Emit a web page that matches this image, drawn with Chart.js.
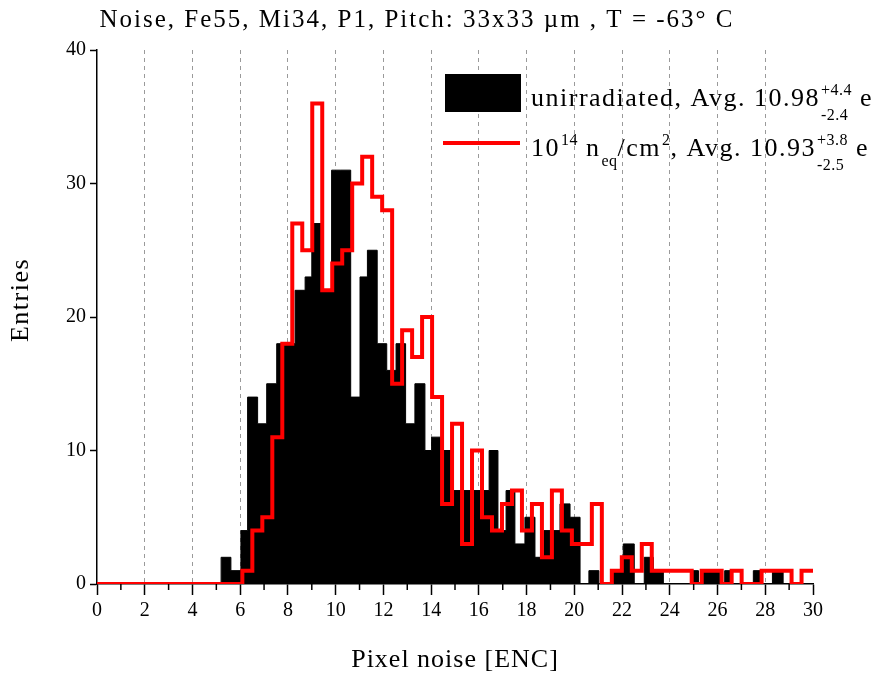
<!DOCTYPE html>
<html>
<head>
<meta charset="utf-8">
<title>Noise, Fe55, Mi34, P1</title>
<script src="https://cdn.jsdelivr.net/npm/chart.js@4.4.1/dist/chart.umd.min.js"></script>
<style>
    html, body { margin: 0; padding: 0; background: #fff; }
    #wrap { width: 878px; height: 675px; }
</style>
</head>
<body>
<div id="wrap"><canvas id="noiseChart" width="878" height="675"></canvas></div>
<script>
// ---- values ----

// unirradiated histogram: bin left edges (ENC) and entries per bin
const unirrEdges = [5.20, 5.61, 6.03, 6.31, 6.73, 7.11, 7.53, 7.88, 8.30, 8.72,
    9.00, 9.39, 9.83, 10.22, 10.63, 11.02, 11.33, 11.74, 12.14, 12.53,
    12.93, 13.32, 13.74, 14.02, 14.46, 14.87, 15.28, 15.70, 16.12, 16.43,
    16.80, 17.14, 17.51, 17.93, 18.35, 18.73, 19.11, 19.40, 19.82, 20.24,
    20.61, 21.03, 21.58, 22.05, 22.51, 22.93, 23.31, 23.73, 24.88, 25.20,
    25.40, 26.10, 26.30, 26.60, 27.50, 27.80, 28.30, 28.75];
const unirrCounts = [2, 1, 4, 14, 12, 15, 18, 18, 22, 23,
    27, 22, 31, 31, 14, 23, 25, 18, 16, 18,
    12, 15, 10, 11, 10, 7, 7, 7, 7, 10,
    4, 7, 3, 5, 2, 4, 4, 6, 5, 0,
    1, 0, 1, 3, 0, 2, 1, 0, 1, 0,
    1, 0, 1, 0, 1, 0, 1];

// 10^14 neq/cm2 histogram: first bin edge, bin width and entries per bin
const irrStart = 6.09;
const irrBinWidth = 0.4184;
const irrCounts = [1, 4, 5, 11, 18, 27, 25, 36, 22, 24,
    25, 30, 32, 29, 28, 15, 19, 17, 20, 14,
    6, 12, 3, 10, 5, 4, 6, 7, 4, 6,
    2, 7, 4, 3, 3, 6, 0, 1, 2, 1,
    3, 1, 1, 1, 1, 0, 1, 1, 0, 1,
    0, 0, 1, 1, 1, 0, 1, 1];

// axes
const xTickValues = [0, 2, 4, 6, 8, 10, 12, 14, 16, 18, 20, 22, 24, 26, 28, 30];
const xMinorTicks = [1, 3, 5, 7, 9, 11, 13, 15, 17, 19, 21, 23, 25, 27, 29];
const yTickValues = [0, 10, 20, 30, 40];

const chartTitle = 'Noise, Fe55, Mi34, P1, Pitch: 33x33 µm , T = -63° C';
const xTitle = 'Pixel noise [ENC]';
const yTitle = 'Entries';

const SERIF = '"Liberation Serif", "Times New Roman", serif';

document.addEventListener('DOMContentLoaded', () => {

    // 1. Turn the bins into step outlines
    const unirrPoints = [{ x: unirrEdges[0], y: 0 }];
    unirrCounts.forEach((c, i) => unirrPoints.push({ x: unirrEdges[i], y: c }));
    const lastEdge = unirrEdges[unirrEdges.length - 1];
    unirrPoints.push({ x: lastEdge, y: unirrCounts[unirrCounts.length - 1] });
    unirrPoints.push({ x: lastEdge, y: 0 });

    const irrPoints = [{ x: xTickValues[0], y: 0 }];
    irrCounts.forEach((c, i) => irrPoints.push({ x: irrStart + i * irrBinWidth, y: c }));
    irrPoints.push({ x: irrStart + irrCounts.length * irrBinWidth, y: irrCounts[irrCounts.length - 1] });

    // 2. Text with super/subscripts (legend)
    function drawRich(ctx, parts, x, y) {
        let cx = x;
        parts.forEach(p => {
            if (typeof p === 'string') {
                ctx.font = '26px ' + SERIF;
                ctx.letterSpacing = '1.5px';
                ctx.fillText(p, cx, y);
                cx += ctx.measureText(p).width;
            } else {
                ctx.font = '16px ' + SERIF;
                ctx.letterSpacing = '0.5px';
                let w = 0;
                if (p.sup) {
                    ctx.fillText(p.sup, cx + 1, y - 11);
                    w = Math.max(w, ctx.measureText(p.sup).width);
                }
                if (p.sub) {
                    ctx.fillText(p.sub, cx + 1, y + (p.sup ? 14 : 10));
                    w = Math.max(w, ctx.measureText(p.sub).width);
                }
                cx += w + 1;
            }
        });
    }

    const overlay = {
        id: 'overlay',
        afterDraw(chart) {
            const { ctx, chartArea, scales: { x } } = chart;
            ctx.save();

            // minor ticks on the x axis
            ctx.strokeStyle = '#000';
            ctx.lineWidth = 1.5;
            xMinorTicks.forEach(v => {
                const px = x.getPixelForValue(v);
                ctx.beginPath();
                ctx.moveTo(px, chartArea.bottom);
                ctx.lineTo(px, chartArea.bottom + 6);
                ctx.stroke();
            });

            ctx.fillStyle = '#000';
            ctx.textBaseline = 'middle';
            ctx.textAlign = 'center';

            // title
            ctx.font = '25px ' + SERIF;
            ctx.letterSpacing = '2px';
            ctx.fillText(chartTitle, 417, 20);

            // axis titles
            ctx.font = '26px ' + SERIF;
            ctx.letterSpacing = '1px';
            ctx.fillText(xTitle, 455, 660);
            ctx.save();
            ctx.translate(21, 300);
            ctx.rotate(-Math.PI / 2);
            ctx.letterSpacing = '1.5px';
            ctx.fillText(yTitle, 0, 0);
            ctx.restore();

            // legend
            ctx.fillRect(445, 74, 76, 38);
            ctx.strokeStyle = '#ff0000';
            ctx.lineWidth = 4;
            ctx.beginPath();
            ctx.moveTo(443, 143);
            ctx.lineTo(520, 143);
            ctx.stroke();

            ctx.textAlign = 'left';
            ctx.textBaseline = 'alphabetic';
            drawRich(ctx, ['unirradiated, Avg. 10.98', { sup: '+4.4', sub: '-2.4' }, ' e'], 531, 106);
            drawRich(ctx, ['10', { sup: '14' }, ' n', { sub: 'eq' }, '/cm', { sup: '2' },
                ', Avg. 10.93', { sup: '+3.8', sub: '-2.5' }, ' e'], 531, 156);

            ctx.restore();
        }
    };

    // 3. Chart
    const tickFont = { family: SERIF, size: 20 };

    const config = {
        type: 'line',
        data: {
            datasets: [
                {
                    label: '10^14 neq/cm2',
                    data: irrPoints,
                    stepped: 'before',
                    borderColor: '#ff0000',
                    borderWidth: 4,
                    pointRadius: 0,
                    fill: false,
                    order: 1
                },
                {
                    label: 'unirradiated',
                    data: unirrPoints,
                    stepped: 'before',
                    borderColor: '#000',
                    backgroundColor: '#000',
                    borderWidth: 1,
                    pointRadius: 0,
                    fill: 'origin',
                    order: 2
                }
            ]
        },
        options: {
            responsive: false,
            devicePixelRatio: 1,
            animation: false,
            events: [],
            layout: { padding: { top: 50, right: 65, bottom: 0, left: 0 } },
            plugins: {
                legend: { display: false },
                tooltip: { enabled: false }
            },
            scales: {
                x: {
                    type: 'linear',
                    min: 0,
                    max: 30,
                    afterBuildTicks: s => { s.ticks = xTickValues.map(v => ({ value: v })); },
                    afterFit: s => { s.height = 91; s.paddingLeft = 0; s.paddingRight = 0; },
                    ticks: { color: '#000', font: tickFont, padding: 4, maxRotation: 0, autoSkip: false },
                    grid: {
                        color: c => (c.tick && c.tick.value > 0 && c.tick.value < 30) ? '#9a9a9a' : 'rgba(0,0,0,0)',
                        lineWidth: 1,
                        tickLength: 11,
                        tickColor: '#000',
                        tickWidth: 1.5
                    },
                    border: { display: true, color: '#000', width: 1.5, dash: [4, 4] }
                },
                y: {
                    type: 'linear',
                    min: 0,
                    max: 40,
                    afterBuildTicks: s => { s.ticks = yTickValues.map(v => ({ value: v })); },
                    afterFit: s => { s.width = 97; s.paddingTop = 0; s.paddingBottom = 0; },
                    ticks: { color: '#000', font: tickFont, padding: 4 },
                    grid: { drawOnChartArea: false, tickLength: 7, tickColor: '#000', tickWidth: 1.5 },
                    border: { display: true, color: '#000', width: 1.5 }
                }
            }
        },
        plugins: [overlay]
    };

    window.noiseChart = new Chart(document.getElementById('noiseChart'), config);
});
</script>
</body>
</html>
